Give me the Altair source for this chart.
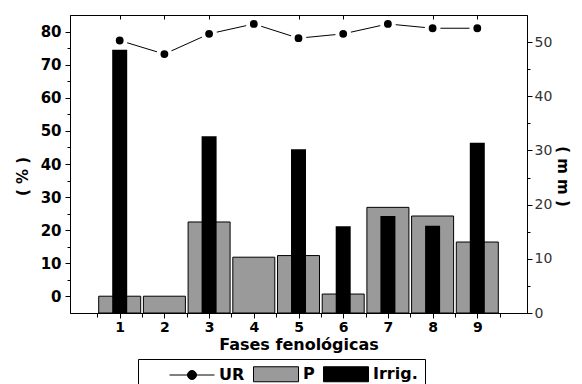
import altair as alt
import pandas as pd

# ---- data ----
fases = [1, 2, 3, 4, 5, 6, 7, 8, 9]
ur_pct = [77.3, 73.2, 79.3, 82.3, 78.0, 79.3, 82.3, 81.0, 81.0]
p_mm = [3.1, 3.1, 16.8, 10.3, 10.6, 3.5, 19.5, 17.9, 13.1]
irrig_mm = [48.6, 0, 32.6, 0, 30.2, 16.0, 17.9, 16.1, 31.4]
series = ["UR", "P", "Irrig."]

x_ticks = [v / 2 for v in range(1, 20)]
pct_ticks = list(range(0, 85, 5))
mm_ticks = list(range(0, 55, 5))

df = pd.DataFrame({"fase": fases, "UR": ur_pct, "P": p_mm, "Irrig": irrig_mm})
leg_df = pd.DataFrame({"serie": series})

FONT = "DejaVu Sans"
xscale = alt.Scale(domain=[0, 10], nice=False, zero=False)
mmscale = alt.Scale(domain=[0, 55], nice=False, zero=False)
pctscale = alt.Scale(domain=[-5, 85], nice=False, zero=False)

x_bottom = alt.X(
    "fase:Q", scale=xscale,
    axis=alt.Axis(
        orient="bottom", values=x_ticks,
        labelExpr="datum.value % 1 === 0 ? format(datum.value, 'd') : ''",
        tickSize={"condition": {"test": "datum.value % 1 === 0", "value": 5}, "value": 4},
        tickColor="black", domainColor="black", labelColor="black",
        labelFont=FONT, labelFontWeight="bold", labelFontSize=14, labelPadding=2,
        title="Fases fenológicas", titleFont=FONT, titleFontWeight="bold",
        titleFontSize=16, titlePadding=2, titleColor="black", grid=False,
    ),
)
x_top = alt.X(
    "fase:Q", scale=xscale,
    axis=alt.Axis(
        orient="top", values=fases, labels=False, domain=False, offset=-4,
        tickSize=4, tickColor="black", title=None, grid=False,
    ),
)
x_none = alt.X("fase:Q", scale=xscale, axis=None)

p_bars = alt.Chart(df).mark_bar(size=42, fill="#9a9a9a", stroke="black", strokeWidth=1).encode(
    x=x_bottom,
    y=alt.Y(
        "P:Q", scale=mmscale,
        axis=alt.Axis(
            orient="right", values=mm_ticks,
            labelExpr="datum.value % 10 === 0 ? datum.label : ''",
            tickSize={"condition": {"test": "datum.value % 10 === 0", "value": 5}, "value": 3},
            tickColor="black", domainColor="black", labelColor="#333",
            labelFont=FONT, labelFontSize=14, labelPadding=2,
            title="( m m )", titleFont=FONT, titleFontWeight="bold", titleFontSize=15,
            titleColor="black", titlePadding=3, titleY=161, grid=False,
        ),
    ),
)

irrig_bars = alt.Chart(df).transform_filter("datum.Irrig > 0").mark_bar(size=15, fill="black").encode(
    x=x_none,
    y=alt.Y("Irrig:Q", scale=mmscale, axis=None),
)

ur_line = alt.Chart(df).mark_line(color="black", strokeWidth=1).encode(
    x=x_top,
    y=alt.Y(
        "UR:Q", scale=pctscale,
        axis=alt.Axis(
            orient="left", values=pct_ticks,
            labelExpr="datum.value % 10 === 0 ? datum.label : ''",
            tickSize={"condition": {"test": "datum.value % 10 === 0", "value": 5}, "value": 3},
            tickColor="black", domainColor="black", labelColor="black",
            labelFont=FONT, labelFontWeight="bold", labelFontSize=15, labelPadding=4,
            title="( % )", titleFont=FONT, titleFontWeight="bold", titleFontSize=15,
            titleColor="black", titlePadding=10, titleY=161, grid=False,
        ),
    ),
)

ur_points = alt.Chart(df).mark_point(
    filled=True, fill="black", stroke="white", strokeWidth=4, size=140, opacity=1
).encode(
    x=x_none,
    y=alt.Y("UR:Q", scale=pctscale, axis=None),
)

leg = alt.Legend(
    orient="none", legendX=68, legendY=344, direction="horizontal",
    title="\u00a0", titleOrient="left", titleFontSize=8, titlePadding=39,
    labelFont=FONT, labelFontWeight="bold", labelFontSize=16, labelColor="black",
    labelOffset=19, columnPadding=6, symbolStrokeWidth=1, symbolSize=225,
    strokeColor="black", fillColor="white", padding=7, cornerRadius=0,
)

legend_layer = alt.Chart(leg_df).mark_point(
    filled=True, strokeWidth=1, size=225, clip=True, opacity=1
).encode(
    x=alt.value(-300),
    y=alt.value(-300),
    shape=alt.Shape(
        "serie:N",
        scale=alt.Scale(
            domain=series,
            range=[
                "M-3,0H3M0.6,0A0.6,0.6,0,1,1,-0.6,0A0.6,0.6,0,1,1,0.6,0Z",
                "M-3,-1H3V1H-3Z",
                "M-3,-1H3V1H-3Z",
            ],
        ),
        legend=leg,
    ),
    fill=alt.Fill(
        "serie:N",
        scale=alt.Scale(domain=series, range=["black", "#9a9a9a", "black"]),
        legend=leg,
    ),
    stroke=alt.Stroke(
        "serie:N",
        scale=alt.Scale(domain=series, range=["black", "black", "black"]),
        legend=leg,
    ),
)

chart = (
    alt.layer(p_bars, irrig_bars, ur_line, ur_points, legend_layer)
    .resolve_scale(y="independent")
    .resolve_axis(x="independent", y="independent")
    .properties(
        width=457, height=298,
        autosize=alt.AutoSizeParams(type="none"),
        padding={"left": 62, "top": 7, "right": 46, "bottom": 71},
        background="white",
    )
    .configure_view(stroke="black", strokeWidth=1)
)

chart.save("out.html", embed_options={"renderer": "svg", "actions": False})
